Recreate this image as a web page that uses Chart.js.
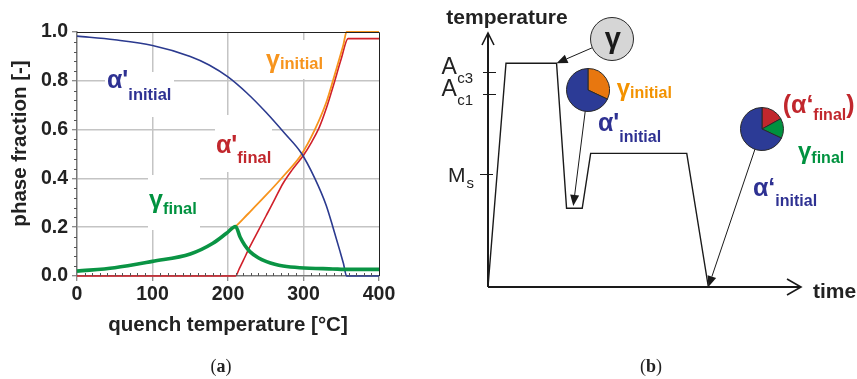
<!DOCTYPE html>
<html>
<head>
<meta charset="utf-8">
<script src="https://cdn.jsdelivr.net/npm/chart.js@4.4.1/dist/chart.umd.min.js"></script>
<style>
  html, body { margin: 0; padding: 0; background: #fff; }
  #wrap { position: relative; width: 857px; height: 379px; overflow: hidden; }
  #wrap canvas { position: absolute; }
</style>
</head>
<body>
<div id="wrap">
  <canvas id="fractions" width="420" height="379" style="left:0;top:0"></canvas>
  <canvas id="schedule" width="437" height="379" style="left:420px;top:0"></canvas>
  <canvas id="pie-gamma" width="44" height="44"></canvas>
  <canvas id="pie-quench" width="44" height="44"></canvas>
  <canvas id="pie-final" width="44" height="44"></canvas>
</div>
<script>
const SANS = '"Liberation Sans", Arial, sans-serif';
const SERIF = '"Liberation Serif", "Times New Roman", serif';

// (a) phase fractions after quenching, by quench temperature [°C]
const alphaInitialT = [0, 50, 100, 150, 175, 200, 225, 250, 275, 297, 315, 330, 339, 348, 353, 357, 400];
const alphaInitial  = [0.983, 0.968, 0.945, 0.900, 0.865, 0.816, 0.750, 0.672, 0.585, 0.504, 0.400, 0.290, 0.200, 0.105, 0.050, 0, 0];
const gammaInitialT = [0, 50, 100, 150, 180, 198, 210, 225, 250, 275, 297, 315, 330, 339, 348, 353, 357, 400];
const gammaInitial  = [0.020, 0.034, 0.060, 0.090, 0.134, 0.175, 0.203, 0.250, 0.330, 0.415, 0.497, 0.600, 0.710, 0.800, 0.895, 0.950, 1.000, 1.000];
const alphaFinalT = [0, 210, 215, 220, 229, 240, 251, 262, 273, 285, 300, 310, 321, 330, 340, 350, 359, 400];
const alphaFinal  = [0, 0, 0.030, 0.062, 0.120, 0.185, 0.250, 0.315, 0.380, 0.435, 0.495, 0.545, 0.610, 0.685, 0.785, 0.890, 0.973, 0.973];
const gammaFinalT = [0, 50, 100, 150, 180, 198, 210, 216, 222, 229, 240, 251, 262, 273, 295, 339, 360, 400];
const gammaFinal  = [0.020, 0.034, 0.060, 0.090, 0.134, 0.175, 0.203, 0.160, 0.127, 0.100, 0.075, 0.059, 0.048, 0.041, 0.034, 0.029, 0.027, 0.027];

// (b) heat treatment route, time and temperature in relative units (0..100)
const scheduleTime = [0, 5.75, 21.9, 25.1, 30.1, 32.8, 63.5, 70.4];
const scheduleTemp = [0, 88.1, 88.1, 31.0, 31.0, 52.6, 52.6, 0];
const levelNames = ['A', 'A', 'M'];
const levelSubs  = ['c3', 'c1', 's'];
const levelTemps = [84.8, 75.9, 44.4];

// phase pies along the route
const pieGammaShares  = [1];                 // γ
const pieQuenchShares = [0.32, 0.68];        // γ initial, α' initial
const pieFinalShares  = [0.17, 0.15, 0.68];  // α' final, γ final, α' initial
const pieCentres = [[39.7, 97.6], [31.9, 77.4], [87.5, 62.3]];
const arrowTips  = [[21.9, 88.1], [27.25, 31.9], [70.4, 0]];

Chart.defaults.font.family = SANS;
Chart.defaults.color = '#222';

const pts = (xs, ys) => xs.map((x, i) => ({ x, y: ys[i] }));

function subLabel(ctx, x, base, color, main, sub, big, small, drop, tail) {
  ctx.fillStyle = color;
  ctx.textAlign = 'left';
  ctx.textBaseline = 'alphabetic';
  ctx.font = `bold ${big}px ${SANS}`;
  ctx.fillText(main, x, base);
  let cx = x + ctx.measureText(main).width;
  ctx.font = `bold ${small}px ${SANS}`;
  ctx.fillText(sub, cx, base + drop);
  if (tail) {
    cx += ctx.measureText(sub).width;
    ctx.font = `bold ${big}px ${SANS}`;
    ctx.fillText(tail, cx, base);
  }
}

function panelTag(ctx, cx, base, letter) {
  ctx.fillStyle = '#222';
  ctx.textBaseline = 'alphabetic';
  ctx.textAlign = 'left';
  ctx.font = `18px ${SERIF}`;
  const wp = ctx.measureText('(').width;
  ctx.font = `bold 18px ${SERIF}`;
  const wl = ctx.measureText(letter).width;
  let x = cx - (2 * wp + wl) / 2;
  ctx.font = `18px ${SERIF}`;
  ctx.fillText('(', x, base);
  ctx.font = `bold 18px ${SERIF}`;
  ctx.fillText(letter, x + wp, base);
  ctx.font = `18px ${SERIF}`;
  ctx.fillText(')', x + wp + wl, base);
}

// ---- (a) ----
const fractionDecor = {
  id: 'fractionDecor',
  beforeDatasetsDraw(chart) {
    // white boxes behind the curve labels
    const ctx = chart.ctx;
    ctx.save();
    ctx.fillStyle = '#fff';
    ctx.fillRect(105, 72, 69, 45);
    ctx.fillRect(262, 40, 64, 39);
    ctx.fillRect(215, 115, 57, 57);
    ctx.fillRect(148, 175, 52, 55);
    ctx.restore();
  },
  afterDatasetsDraw(chart) {
    const ctx = chart.ctx;
    const { left, right, top, bottom } = chart.chartArea;
    const xs = chart.scales.x, ys = chart.scales.y;
    ctx.save();
    // frame top and right
    ctx.strokeStyle = '#222';
    ctx.lineWidth = 1;
    ctx.beginPath();
    ctx.moveTo(left, top + 0.5);
    ctx.lineTo(right + 0.5, top + 0.5);
    ctx.lineTo(right + 0.5, bottom);
    ctx.stroke();
    // minor ticks
    ctx.strokeStyle = '#555';
    ctx.beginPath();
    for (let k = 1; k < 25; k++) {
      if (k % 5 === 0) continue;
      const y = Math.round(ys.getPixelForValue(k * 0.04)) + 0.5;
      ctx.moveTo(left - 3, y);
      ctx.lineTo(left, y);
    }
    for (let k = 1; k < 40; k++) {
      if (k % 10 === 0) continue;
      const x = Math.round(xs.getPixelForValue(k * 10)) + 0.5;
      ctx.moveTo(x, bottom);
      ctx.lineTo(x, bottom - 3);
    }
    ctx.stroke();
    // y title
    ctx.translate(20, 143.5);
    ctx.rotate(-Math.PI / 2);
    ctx.fillStyle = '#222';
    ctx.font = `bold 20.5px ${SANS}`;
    ctx.textAlign = 'center';
    ctx.textBaseline = 'middle';
    ctx.fillText('phase fraction [-]', 0, 0);
    ctx.restore();

    ctx.save();
    subLabel(ctx, 107, 88, '#2e3192', "α'", 'initial', 25, 16.5, 12);
    subLabel(ctx, 266, 68, '#f7941d', 'γ', 'initial', 25, 16.5, 0.5);
    subLabel(ctx, 216, 153, '#c1272d', "α'", 'final', 25, 16.5, 10);
    subLabel(ctx, 149, 208, '#00923f', 'γ', 'final', 25, 16.5, 6);
    panelTag(ctx, 221, 372, 'a');
    ctx.restore();
  }
};

const lineSet = (label, xs, ys, color, width) => ({
  label,
  data: pts(xs, ys),
  borderColor: color,
  borderWidth: width,
  pointRadius: 0,
  cubicInterpolationMode: 'monotone',
  clip: 6,
});

const tickFont = { size: 19.5, weight: 'bold' };
const inner = (lo, hi) => (ctx) => (ctx.tick && ctx.tick.value > lo && ctx.tick.value < hi ? '#c4c4c4' : 'rgba(0,0,0,0)');

new Chart(document.getElementById('fractions'), {
  type: 'line',
  data: {
    datasets: [
      lineSet('γ final', gammaFinalT, gammaFinal, '#0a9444', 3.6),
      lineSet("α' initial", alphaInitialT, alphaInitial, '#2b3a8f', 1.6),
      lineSet('γ initial', gammaInitialT, gammaInitial, '#f7941d', 1.8),
      lineSet("α' final", alphaFinalT, alphaFinal, '#d0202a', 1.6),
    ],
  },
  options: {
    responsive: false,
    animation: false,
    devicePixelRatio: 1,
    events: [],
    layout: { padding: { left: 0, top: 32, right: 41, bottom: 0 } },
    plugins: { legend: { display: false }, tooltip: { enabled: false } },
    scales: {
      x: {
        type: 'linear', min: 0, max: 400,
        afterFit(s) { s.height = 103; },
        ticks: { stepSize: 100, font: tickFont, color: '#222', padding: 2, maxRotation: 0 },
        grid: { color: inner(0, 400), lineWidth: 1.5, tickLength: 5, tickColor: '#666', tickWidth: 1 },
        border: { color: '#777', width: 1.5 },
        title: {
          display: true, text: 'quench temperature [°C]', color: '#222',
          font: { size: 20.5, weight: 'bold' }, padding: { top: 0, bottom: 41 },
        },
      },
      y: {
        min: 0, max: 1,
        afterFit(s) { s.width = 77; },
        ticks: { stepSize: 0.2, font: tickFont, color: '#222', padding: 4, callback: (v) => v.toFixed(1) },
        grid: { color: inner(0.01, 0.99), lineWidth: 1.5, tickLength: 5, tickColor: '#666', tickWidth: 1 },
        border: { color: '#777', width: 1.5 },
      },
    },
  },
  plugins: [fractionDecor],
});

// ---- (b) ----
const scheduleDecor = {
  id: 'scheduleDecor',
  afterDatasetsDraw(chart) {
    const ctx = chart.ctx;
    const xs = chart.scales.x, ys = chart.scales.y;
    const x0 = xs.getPixelForValue(0), y0 = ys.getPixelForValue(0);
    const xEnd = xs.getPixelForValue(100), yEnd = ys.getPixelForValue(100);
    ctx.save();
    ctx.strokeStyle = '#1a1a1a';
    ctx.lineWidth = 2;
    ctx.beginPath();
    ctx.moveTo(x0, y0);
    ctx.lineTo(x0, yEnd);
    ctx.moveTo(x0, y0);
    ctx.lineTo(xEnd, y0);
    ctx.stroke();
    ctx.lineWidth = 1.6;
    ctx.beginPath();
    ctx.moveTo(x0 - 6, yEnd + 12);
    ctx.lineTo(x0, yEnd);
    ctx.lineTo(x0 + 6, yEnd + 12);
    ctx.moveTo(xEnd - 14, y0 - 8);
    ctx.lineTo(xEnd, y0);
    ctx.lineTo(xEnd - 14, y0 + 8);
    ctx.stroke();

    // temperature levels
    ctx.lineWidth = 1;
    ctx.fillStyle = '#222';
    levelTemps.forEach((t, i) => {
      const y = Math.round(ys.getPixelForValue(t)) + 0.5;
      ctx.beginPath();
      if (i < 2) { ctx.moveTo(x0 - 5, y); ctx.lineTo(x0 + 8, y); }
      else { ctx.moveTo(x0 - 8, y); ctx.lineTo(x0 + 5, y); }
      ctx.stroke();
      const base = i < 2 ? y + 1.5 : y + 7;
      ctx.textAlign = 'left';
      ctx.textBaseline = 'alphabetic';
      ctx.font = `${i < 2 ? 23 : 21}px ${SANS}`;
      const mx = i < 2 ? 21.5 : 28;
      ctx.fillText(levelNames[i], mx, base);
      const w = ctx.measureText(levelNames[i]).width;
      ctx.font = `15px ${SANS}`;
      ctx.fillText(levelSubs[i], mx + w + (i < 2 ? 0.5 : 1), base + (i < 2 ? 8.5 : 6.5));
    });

    // axis names
    ctx.font = `bold 21px ${SANS}`;
    ctx.textAlign = 'center';
    ctx.fillText('temperature', x0 + 19, 24);
    ctx.textAlign = 'left';
    ctx.fillText('time', xEnd + 12, y0 + 11);

    // arrows from the pies
    ctx.strokeStyle = '#1a1a1a';
    ctx.fillStyle = '#1a1a1a';
    ctx.lineWidth = 1;
    pieCentres.forEach((c, i) => {
      const sx = xs.getPixelForValue(c[0]), sy = ys.getPixelForValue(c[1]);
      const tx = xs.getPixelForValue(arrowTips[i][0]), ty = ys.getPixelForValue(arrowTips[i][1]);
      const len = Math.hypot(tx - sx, ty - sy);
      const ux = (tx - sx) / len, uy = (ty - sy) / len;
      const bx = tx - ux * 11, by = ty - uy * 11;
      ctx.beginPath();
      ctx.moveTo(sx, sy);
      ctx.lineTo(bx, by);
      ctx.stroke();
      ctx.beginPath();
      ctx.moveTo(tx, ty);
      ctx.lineTo(bx - uy * 4.5, by + ux * 4.5);
      ctx.lineTo(bx + uy * 4.5, by - ux * 4.5);
      ctx.closePath();
      ctx.fill();
    });

    subLabel(ctx, 196.7, 96, '#f39200', 'γ', 'initial', 24, 16, 2.3);
    subLabel(ctx, 178, 131, '#2e3192', "α'", 'initial', 25, 16, 10.7);
    subLabel(ctx, 362.7, 113, '#c1272d', '(α‘', 'final', 25, 16, 7, ')');
    subLabel(ctx, 378, 159, '#00923f', 'γ', 'final', 24, 16, 3.7);
    subLabel(ctx, 333, 196, '#2e3192', 'α‘', 'initial', 25, 16, 10);
    panelTag(ctx, 231, 372, 'b');
    ctx.restore();
  }
};

const schedule = new Chart(document.getElementById('schedule'), {
  type: 'line',
  data: {
    datasets: [{
      label: 'temperature',
      data: pts(scheduleTime, scheduleTemp),
      borderColor: '#1a1a1a',
      borderWidth: 1.4,
      pointRadius: 0,
      tension: 0,
      clip: false,
    }],
  },
  options: {
    responsive: false,
    animation: false,
    devicePixelRatio: 1,
    events: [],
    layout: { padding: { left: 68, right: 56, top: 33, bottom: 92 } },
    plugins: { legend: { display: false }, tooltip: { enabled: false } },
    scales: {
      x: { type: 'linear', min: 0, max: 100, display: false },
      y: { min: 0, max: 100, display: false },
    },
  },
  plugins: [scheduleDecor],
});

// outline and symbol for the all-austenite circle
const gammaMark = {
  id: 'gammaMark',
  afterDraw(chart) {
    const ctx = chart.ctx;
    const arc = chart.getDatasetMeta(0).data[0];
    ctx.save();
    ctx.strokeStyle = '#2a2a2a';
    ctx.lineWidth = 1;
    ctx.beginPath();
    ctx.arc(arc.x, arc.y, arc.outerRadius, 0, Math.PI * 2);
    ctx.stroke();
    ctx.fillStyle = '#1a1a1a';
    ctx.font = `bold 29px ${SANS}`;
    ctx.textAlign = 'center';
    ctx.textBaseline = 'alphabetic';
    ctx.fillText('γ', arc.x + 0.8, arc.y + 8.5);
    ctx.restore();
  }
};

function makePie(id, shares, colors, centre, border, extra) {
  const el = document.getElementById(id);
  const x = schedule.scales.x.getPixelForValue(centre[0]) + 420;
  const y = schedule.scales.y.getPixelForValue(centre[1]);
  el.style.left = (x - 22) + 'px';
  el.style.top = (y - 22) + 'px';
  return new Chart(el, {
    type: 'pie',
    data: { datasets: [{ data: shares, backgroundColor: colors, borderColor: '#2a2a2a', borderWidth: border }] },
    options: {
      responsive: false,
      animation: false,
      devicePixelRatio: 1,
      events: [],
      layout: { padding: border ? 0 : 0.5 },
      plugins: { legend: { display: false }, tooltip: { enabled: false } },
    },
    plugins: extra ? [extra] : [],
  });
}

makePie('pie-gamma', pieGammaShares, ['#d6d6d6'], pieCentres[0], 0, gammaMark);
makePie('pie-quench', pieQuenchShares, ['#e8770f', '#2c3b96'], pieCentres[1], 1);
makePie('pie-final', pieFinalShares, ['#c1272d', '#00913f', '#2c3b96'], pieCentres[2], 1);
</script>
</body>
</html>
